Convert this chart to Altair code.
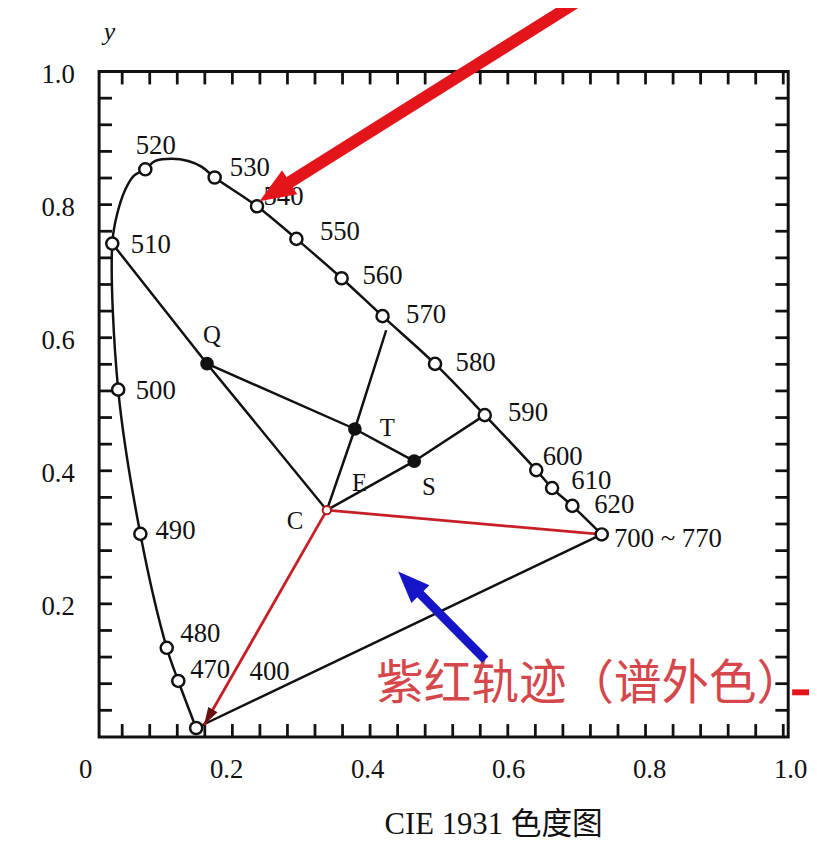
import math
import altair as alt
import pandas as pd

W, H = 696, 672
PX_X, PX_Y = 695.5, 672.0   # pixels per chromaticity unit (used only for arrow-head angles)

# ---------------- data ----------------
# spectral locus, drawing order 400 nm -> 700 nm (unlabelled points trace the curve near 520 nm)
locus_x = [0.1474, 0.1215, 0.1047, 0.0664, 0.0342, 0.0256, 0.0328, 0.0449, 0.0568, 0.0736,
           0.0880, 0.1119, 0.1359, 0.1550, 0.1743, 0.2358, 0.2930, 0.3587, 0.4181, 0.4943,
           0.5665, 0.6413, 0.6643, 0.6937, 0.7364]
locus_y = [0.0134, 0.0841, 0.1339, 0.3051, 0.5219, 0.7415, 0.7862, 0.8234, 0.8433, 0.8531,
           0.8656, 0.8690, 0.8656, 0.8571, 0.8408, 0.7976, 0.7485, 0.6894, 0.6324, 0.5606,
           0.4836, 0.4010, 0.3740, 0.3472, 0.3043]

# marked wavelengths (open circles) and their labels
wl_names = ["400", "470", "480", "490", "500", "510", "520", "530", "540", "550",
            "560", "570", "580", "590", "600", "610", "620", "700 ~ 770"]
wl_x = [0.1474, 0.1215, 0.1047, 0.0664, 0.0342, 0.0256, 0.0736, 0.1743, 0.2358, 0.2930,
        0.3587, 0.4181, 0.4943, 0.5665, 0.6413, 0.6643, 0.6937, 0.7364]
wl_y = [0.0134, 0.0841, 0.1339, 0.3051, 0.5219, 0.7415, 0.8531, 0.8408, 0.7976, 0.7485,
        0.6894, 0.6324, 0.5606, 0.4836, 0.4010, 0.3740, 0.3472, 0.3043]
wl_label_x = [0.2250, 0.1387, 0.1244, 0.0884, 0.0597, 0.0525, 0.0597, 0.1963, 0.2451, 0.3271,
              0.3889, 0.4522, 0.5241, 0.6003, 0.6506, 0.6923, 0.7254, 0.7541]
wl_label_y = [0.0967, 0.1012, 0.1548, 0.3095, 0.5193, 0.7396, 0.8884, 0.8542, 0.8110, 0.7589,
              0.6920, 0.6339, 0.5625, 0.4866, 0.4211, 0.3839, 0.3482, 0.2976]

# mixture points (filled)
pt_names = ["Q", "T", "S"]
pt_x = [0.1632, 0.3779, 0.4641]
pt_y = [0.5610, 0.4628, 0.4144]

# white point C and other line end points
c_x, c_y = 0.3372, 0.3408
tend_x, tend_y = 0.4234, 0.6112       # end of the C-T line just below 570 nm
red400_x, red400_y = 0.1589, 0.0179   # end of red C -> 400 line (arrow tip)

# letter labels
let_names = ["Q", "T", "S", "E", "C"]
let_x = [0.1704, 0.4249, 0.4853, 0.3846, 0.2911]
let_y = [0.6042, 0.4643, 0.3750, 0.3810, 0.3244]

# annotation arrows (tail -> shaft end, tip)
red_arrow_x = [0.6995, 0.2759]
red_arrow_y = [1.1042, 0.8289]
red_tip = (0.2394, 0.8051)
blue_arrow_x = [0.5672, 0.4670]
blue_arrow_y = [0.1161, 0.2210]
blue_tip = (0.4407, 0.2485)

purple_text = "紫红轨迹（谱外色）"
purple_text_x, purple_text_y = 0.4091, 0.0774
dash_x = [1.0129, 1.0374]
dash_y = 0.067

x_tick_vals = [round(0.04 * k, 2) for k in range(1, 26)]
y_tick_vals = [round(0.04 * k, 2) for k in range(1, 25)]
x_label_vals = [0, 0.2, 0.4, 0.6, 0.8, 1.0]
y_label_vals = [0.2, 0.4, 0.6, 0.8, 1.0]

# ---------------- helpers ----------------
P = {n: (x, y) for n, x, y in zip(wl_names, wl_x, wl_y)}
P.update({n: (x, y) for n, x, y in zip(pt_names, pt_x, pt_y)})
P["C"] = (c_x, c_y)
P["Tend"] = (tend_x, tend_y)
P["R400"] = (red400_x, red400_y)


def seg_df(segs):
    rows = []
    for g, names in enumerate(segs):
        for i, n in enumerate(names):
            rows.append({"g": g, "i": i, "x": P[n][0], "y": P[n][1]})
    return pd.DataFrame(rows)


def head_angle(tail, tip):
    dx = (tip[0] - tail[0]) * PX_X
    dy = -(tip[1] - tail[1]) * PX_Y
    return math.degrees(math.atan2(dx, -dy)) % 360


INK = "#111111"
SERIF = "Liberation Serif"

yaxis = alt.Axis(values=y_label_vals, format=".1f", labelFont=SERIF, labelFontSize=27,
                 labelColor=INK, labelPadding=25, labelOffset=3, labelFlush=False,
                 ticks=False, domain=False, grid=False, title="y", titleX=10, titleY=-40,
                 titleAngle=0, titleFont=SERIF, titleFontStyle="italic", titleFontSize=26,
                 titleFontWeight="normal", titleAlign="center", titleBaseline="middle",
                 titleColor=INK)

xs = alt.Scale(domain=[0, 1], range=[-4.5, 691], nice=False, zero=False)
ys = alt.Scale(domain=[0, 1], nice=False, zero=False)
X = lambda f: alt.X(f, type="quantitative", scale=xs, axis=None)
Y = lambda f: alt.Y(f, type="quantitative", scale=ys, axis=yaxis)

one = pd.DataFrame({"a": [0]})

# ---------------- layers ----------------
frame = alt.Chart(one).mark_rect(fill="transparent", stroke=INK, strokeWidth=3).encode(
    x=alt.value(0), x2=alt.value(W), y=alt.value(0), y2=alt.value(H))

dtx = pd.DataFrame({"v": x_tick_vals})
dty = pd.DataFrame({"v": y_tick_vals})
tick_style = dict(color=INK, strokeWidth=2.8)
ticks_l = alt.Chart(dty).mark_rule(**tick_style).encode(y=Y("v"), x=alt.value(0), x2=alt.value(13))
ticks_r = alt.Chart(dty).mark_rule(**tick_style).encode(y=Y("v"), x=alt.value(W), x2=alt.value(W - 13))
ticks_b = alt.Chart(dtx).mark_rule(**tick_style).encode(x=X("v"), y=alt.value(H), y2=alt.value(H - 13))
ticks_t = alt.Chart(dtx).mark_rule(**tick_style).encode(x=X("v"), y=alt.value(0), y2=alt.value(13))

locus_df = pd.DataFrame({"i": range(len(locus_x)), "x": locus_x, "y": locus_y})
locus = alt.Chart(locus_df).mark_line(interpolate="catmull-rom", color=INK, strokeWidth=2.5).encode(
    x=X("x"), y=Y("y"), order="i:Q")

black_lines = alt.Chart(seg_df([["510", "Q", "C"], ["Q", "T", "S"], ["C", "T", "Tend"],
                                ["C", "S", "590"], ["400", "700 ~ 770"]])).mark_line(
    color=INK, strokeWidth=2.5).encode(x=X("x"), y=Y("y"), detail="g:N", order="i:Q")

red_lines = alt.Chart(seg_df([["C", "700 ~ 770"], ["C", "R400"]])).mark_line(
    color="#c62026", strokeWidth=2.8).encode(x=X("x"), y=Y("y"), detail="g:N", order="i:Q")

wl_df = pd.DataFrame({"name": wl_names, "x": wl_x, "y": wl_y, "lx": wl_label_x, "ly": wl_label_y})
circles = alt.Chart(wl_df).mark_point(shape="circle", filled=True, fill="white", stroke=INK,
                                      strokeWidth=2.5, size=150, opacity=1).encode(x=X("x"), y=Y("y"))
c_mark = alt.Chart(pd.DataFrame({"x": [c_x], "y": [c_y]})).mark_point(
    shape="circle", filled=True, fill="white", stroke="#b01515", strokeWidth=2, size=70, opacity=1
).encode(x=X("x"), y=Y("y"))

pt_df = pd.DataFrame({"name": pt_names, "x": pt_x, "y": pt_y})
dots = alt.Chart(pt_df).mark_point(shape="circle", filled=True, color=INK, size=190, opacity=1).encode(
    x=X("x"), y=Y("y"))

wl_labels = alt.Chart(wl_df).mark_text(align="left", baseline="middle", font=SERIF, fontSize=27,
                                       color=INK).encode(x=X("lx"), y=Y("ly"), text="name:N")
let_df = pd.DataFrame({"name": let_names, "x": let_x, "y": let_y})
let_labels = alt.Chart(let_df).mark_text(align="center", baseline="middle", font=SERIF, fontSize=25,
                                         color=INK).encode(x=X("x"), y=Y("y"), text="name:N")

ptext = alt.Chart(pd.DataFrame({"t": [purple_text], "x": [purple_text_x], "y": [purple_text_y]})).mark_text(
    align="left", baseline="middle", font="Noto Sans CJK SC", fontSize=48, color="#d5474b"
).encode(x=X("x"), y=Y("y"), text="t:N")

dash = alt.Chart(pd.DataFrame({"x": [dash_x[0]], "x2": [dash_x[1]], "y": [dash_y]})).mark_rule(
    color="#e3151b", strokeWidth=6).encode(x=X("x"), x2="x2", y=Y("y"))

HEAD = "M0,0L-0.8,2L0.8,2Z"
NARROW_HEAD = "M0,0L-0.6,2L0.6,2Z"

blue_shaft = alt.Chart(pd.DataFrame({"x": [blue_arrow_x[0]], "x2": [blue_arrow_x[1]],
                                     "y": [blue_arrow_y[0]], "y2": [blue_arrow_y[1]]})).mark_rule(
    color="#1616c8", strokeWidth=9).encode(x=X("x"), x2="x2", y=Y("y"), y2="y2")
blue_head = alt.Chart(pd.DataFrame({"x": [blue_tip[0]], "y": [blue_tip[1]]})).mark_point(
    shape=HEAD, filled=True, color="#1616c8", opacity=1, size=1024,
    angle=head_angle((blue_arrow_x[0], blue_arrow_y[0]), blue_tip)).encode(x=X("x"), y=Y("y"))

red_shaft = alt.Chart(pd.DataFrame({"x": [red_arrow_x[0]], "x2": [red_arrow_x[1]],
                                    "y": [red_arrow_y[0]], "y2": [red_arrow_y[1]]})).mark_rule(
    color="#e3151b", strokeWidth=12).encode(x=X("x"), x2="x2", y=Y("y"), y2="y2")
red_head = alt.Chart(pd.DataFrame({"x": [red_tip[0]], "y": [red_tip[1]]})).mark_point(
    shape=HEAD, filled=True, color="#e3151b", opacity=1, size=1296,
    angle=head_angle((red_arrow_x[0], red_arrow_y[0]), red_tip)).encode(x=X("x"), y=Y("y"))

small_head = alt.Chart(pd.DataFrame({"x": [red400_x], "y": [red400_y]})).mark_point(
    shape=NARROW_HEAD, filled=True, color="#6a1010", opacity=1, size=324,
    angle=head_angle((c_x, c_y), (red400_x, red400_y))).encode(x=X("x"), y=Y("y"))

main = alt.layer(ticks_l, frame, ticks_r, ticks_b, ticks_t, locus, black_lines, red_lines,
                 circles, c_mark, dots, wl_labels, let_labels, ptext, dash,
                 blue_shaft, blue_head, red_shaft, red_head, small_head)

xaxis = alt.Axis(values=x_label_vals, labelExpr="datum.value == 0 ? '0' : format(datum.value, '.1f')",
                 labelFont=SERIF, labelFontSize=27, labelColor=INK, labelPadding=20,
                 labelFlush=False, ticks=False, domain=False, grid=False, title="CIE 1931 色度图",
                 titleX=398, titleY=89, titleFont="Liberation Serif, Noto Sans CJK SC",
                 titleFontSize=31, titleFontWeight="normal", titleAlign="center",
                 titleBaseline="middle", titleColor=INK)
label_axis = alt.Chart(pd.DataFrame({"v": x_label_vals})).mark_point(opacity=0).encode(
    x=alt.X("v:Q", scale=alt.Scale(domain=[0, 1], range=[-14, 698], nice=False, zero=False),
            axis=xaxis))

chart = alt.layer(main, label_axis).resolve_scale(x="independent").properties(
    width=W, height=H,
    padding={"left": 92, "top": 60, "right": 21, "bottom": 108},
    autosize=alt.AutoSizeParams(type="none"),
    background="white",
).configure_view(strokeWidth=0)

chart.save("out.html", embed_options={"renderer": "svg", "actions": False})
